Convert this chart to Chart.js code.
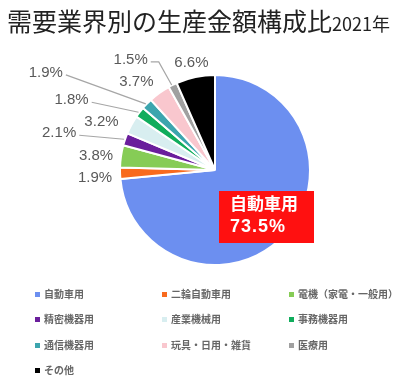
<!DOCTYPE html>
<html><head><meta charset="utf-8">
<script src="https://cdn.jsdelivr.net/npm/chart.js@4.4.0/dist/chart.umd.min.js"></script>
<style>
html,body{margin:0;padding:0;background:#fff;}
#wrap{position:relative;width:405px;height:379px;overflow:hidden;font-family:"Noto Sans CJK JP","Noto Sans",sans-serif;}
#title{position:absolute;left:7px;top:2px;font-size:25px;color:#222;white-space:nowrap;letter-spacing:0;font-weight:400;}
#title small{font-size:18px;letter-spacing:0;}
#cv{position:absolute;left:0;top:0;}
#legend{position:absolute;left:0;top:0;width:405px;height:379px;pointer-events:none;}
.li{position:absolute;font-size:10px;font-weight:700;color:#666;white-space:nowrap;line-height:12px;}
.li i{display:inline-block;width:5px;height:5px;margin-right:4px;vertical-align:1px;}
</style></head>
<body><div id="wrap">
<canvas id="cv" width="405" height="379"></canvas>
<div id="title">需要業界別の生産金額構成比<small>2021年</small></div>
<div id="legend"></div>
</div>
<script>
const categories = ["自動車用","二輪自動車用","電機（家電・一般用）","精密機器用","産業機械用","事務機器用","通信機器用","玩具・日用・雑貨","医療用","その他"];
const values = [73.5,1.9,3.8,2.1,3.2,1.8,1.9,3.7,1.5,6.6];
const labels = ["73.5%","1.9%","3.8%","2.1%","3.2%","1.8%","1.9%","3.7%","1.5%","6.6%"];
const colors = ["#6c8ff0","#f86a1e","#86cc56","#6a1e9c","#d8eef0","#10ad5c","#3ca5ae","#f9c7ce","#a0a0a0","#000000"];

// label placement relative to each slice's outer mid point (dx, dy, leader line, elbow)
const labelPlace = [null,[-25,5,0,0],[-25,0,0,0],[-66,-6,1,0],[-30,-3,0,0],[-68,-12,1,0],[-101,-31,1,0],[-23,-11,0,0],[-42,-25,1,8],[-4,-14,0,0]];

const lp = {
  id:'pieLabels',
  afterDatasetsDraw(chart){
    const ctx = chart.ctx;
    const meta = chart.getDatasetMeta(0);
    ctx.save();
    meta.data.forEach((arc,i)=>{
      const p = arc.getProps(['x','y','startAngle','endAngle','outerRadius']);
      const mid = (p.startAngle+p.endAngle)/2;
      if(i===0){
        const bx = p.x+4, by = p.y+21, bw = 95, bh = 52;
        ctx.fillStyle = '#ff1010';
        ctx.fillRect(bx,by,bw,bh);
        ctx.fillStyle = '#fff';
        ctx.textBaseline='middle'; ctx.textAlign='left';
        ctx.font = 'bold 17px "Noto Sans CJK JP", sans-serif';
        ctx.fillText(categories[0], bx+11, by+13);
        ctx.font = 'bold 18px "Liberation Sans", Arial, sans-serif';
        if('letterSpacing' in ctx) ctx.letterSpacing='1px';
        ctx.fillText(labels[0], bx+11, by+36);
        if('letterSpacing' in ctx) ctx.letterSpacing='0px';
        return;
      }
      const ax = p.x + Math.cos(mid)*p.outerRadius;
      const ay = p.y + Math.sin(mid)*p.outerRadius;
      const [dx,dy,line,elbow] = labelPlace[i];
      const lx = ax+dx, ly = ay+dy;
      ctx.font = '15px "Liberation Sans", Arial, sans-serif';
      ctx.textAlign='center'; ctx.textBaseline='middle';
      ctx.fillStyle = '#595959';
      ctx.fillText(labels[i], lx, ly);
      if(line){
        const w = ctx.measureText(labels[i]).width;
        const sx = lx + w/2 + 3, sy = ly + 2;
        ctx.strokeStyle = '#a6a6a6'; ctx.lineWidth = 1.2;
        ctx.beginPath(); ctx.moveTo(sx,sy);
        if(elbow) ctx.lineTo(sx+elbow,sy);
        ctx.lineTo(ax-1,ay);
        ctx.stroke();
      }
    });
    ctx.restore();
  }
};

new Chart(document.getElementById('cv'),{
  type:'pie',
  data:{labels:categories,datasets:[{data:values,backgroundColor:colors,borderColor:'#fff',borderWidth:2}]},
  options:{
    responsive:false,animation:false,
    radius:95,
    layout:{padding:{left:120,right:95,top:75,bottom:114}},
    plugins:{legend:{display:false},tooltip:{enabled:false},title:{display:false}}
  },
  plugins:[lp]
});

const lg = document.getElementById('legend');
const colX = [35,162,289], rowY = [288,313,339,364];
categories.forEach((c,i)=>{
  const d = document.createElement('div');
  d.className='li';
  d.style.left = colX[i%3]+'px';
  d.style.top = rowY[Math.floor(i/3)]+'px';
  d.innerHTML = '<i style="background:'+colors[i]+'"></i>'+c;
  lg.appendChild(d);
});
</script>
</body></html>
